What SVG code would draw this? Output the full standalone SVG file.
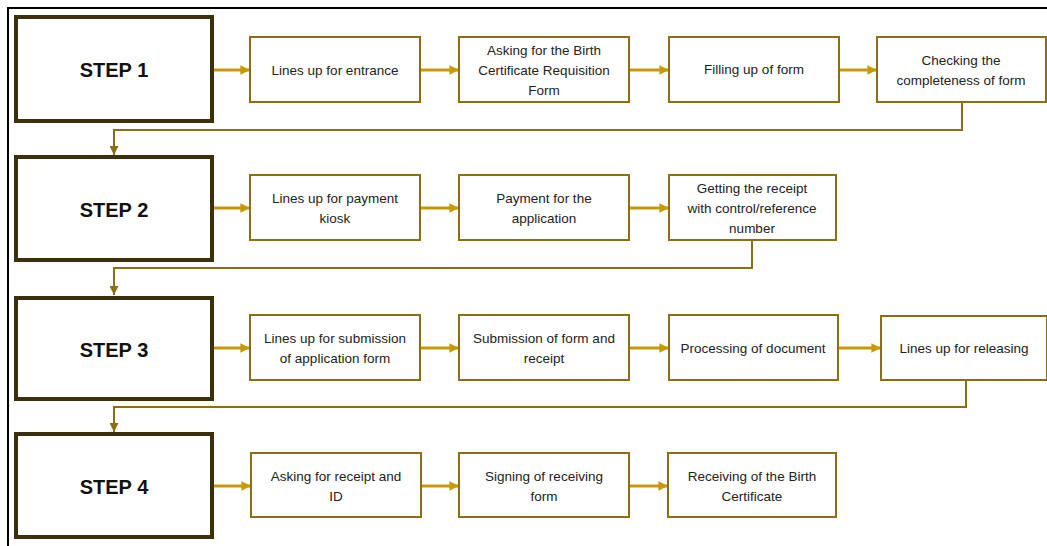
<svg xmlns="http://www.w3.org/2000/svg" width="1047" height="546" viewBox="0 0 1047 546">
<defs>
<style>
.step{fill:#fff;stroke:#3b2f0c;stroke-width:4}
.box{fill:#fff;stroke:#8d6e12;stroke-width:2}
.st{font-family:"Liberation Sans",Arial,sans-serif;font-weight:bold;font-size:20px;fill:#111;text-anchor:middle}
.t{font-family:"Liberation Sans",Arial,sans-serif;font-size:13.5px;fill:#222;text-anchor:middle}
.arr{fill:none;stroke:#c69a06;stroke-width:3;marker-end:url(#ah)}
.loop{fill:none;stroke:#8d6e12;stroke-width:2;marker-end:url(#lh)}
</style>
<marker id="ah" viewBox="0 0 10 10" refX="10" refY="5" markerWidth="3.6" markerHeight="3.2" markerUnits="strokeWidth" orient="auto"><path d="M0,0L10,5L0,10z" fill="#c69a06"/></marker>
<marker id="lh" viewBox="0 0 10 10" refX="10" refY="5" markerWidth="4.5" markerHeight="4.5" markerUnits="strokeWidth" orient="auto"><path d="M0,0L10,5L0,10z" fill="#8d6e12"/></marker>
</defs>
<rect width="1047" height="546" fill="#fff"/>
<path d="M8,546V8H1047" fill="none" stroke="#000" stroke-width="2"/>
<g id="connectors">
<path class="arr" d="M214,70H250"/>
<path class="arr" d="M420,70H459"/>
<path class="arr" d="M629,70H669"/>
<path class="arr" d="M839,70H877"/>
<path class="loop" d="M962,102V130H114V155"/>
<path class="arr" d="M214,208H250"/>
<path class="arr" d="M420,208H459"/>
<path class="arr" d="M629,208H669"/>
<path class="loop" d="M752,240V268H114V295"/>
<path class="arr" d="M214,348H250"/>
<path class="arr" d="M420,348H459"/>
<path class="arr" d="M629,348H669"/>
<path class="arr" d="M838,348H881"/>
<path class="loop" d="M966,380V407H114V432"/>
<path class="arr" d="M214,486H251"/>
<path class="arr" d="M421,486H459"/>
<path class="arr" d="M629,486H668"/>
</g>
<g id="step1"><rect class="step" x="16" y="17" width="196" height="104"/><text class="st" x="114" y="77">STEP 1</text></g>
<g id="n1a"><rect class="box" x="250" y="37" width="170" height="65"/><text class="t" x="335" y="75">Lines up for entrance</text></g>
<g id="n1b"><rect class="box" x="459" y="37" width="170" height="65"/><text class="t" x="544" y="55">Asking for the Birth</text><text class="t" x="544" y="75">Certificate Requisition</text><text class="t" x="544" y="95">Form</text></g>
<g id="n1c"><rect class="box" x="669" y="37" width="170" height="65"/><text class="t" x="754" y="74">Filling up of form</text></g>
<g id="n1d"><rect class="box" x="877" y="37" width="169" height="65"/><text class="t" x="961" y="65">Checking the</text><text class="t" x="961" y="85">completeness of form</text></g>
<g id="step2"><rect class="step" x="16" y="157" width="196" height="103"/><text class="st" x="114" y="217">STEP 2</text></g>
<g id="n2a"><rect class="box" x="250" y="175" width="170" height="65"/><text class="t" x="335" y="203">Lines up for payment</text><text class="t" x="335" y="223">kiosk</text></g>
<g id="n2b"><rect class="box" x="459" y="175" width="170" height="65"/><text class="t" x="544" y="203">Payment for the</text><text class="t" x="544" y="223">application</text></g>
<g id="n2c"><rect class="box" x="669" y="175" width="167" height="65"/><text class="t" x="752" y="193">Getting the receipt</text><text class="t" x="752" y="213">with control/reference</text><text class="t" x="752" y="233">number</text></g>
<g id="step3"><rect class="step" x="16" y="298" width="196" height="101"/><text class="st" x="114" y="357">STEP 3</text></g>
<g id="n3a"><rect class="box" x="250" y="315" width="170" height="65"/><text class="t" x="335" y="343">Lines up for submission</text><text class="t" x="335" y="363">of application form</text></g>
<g id="n3b"><rect class="box" x="459" y="315" width="170" height="65"/><text class="t" x="544" y="343">Submission of form and</text><text class="t" x="544" y="363">receipt</text></g>
<g id="n3c"><rect class="box" x="669" y="315" width="169" height="65"/><text class="t" x="753" y="353">Processing of document</text></g>
<g id="n3d"><rect class="box" x="881" y="316" width="166" height="64"/><text class="t" x="964" y="353">Lines up for releasing</text></g>
<g id="step4"><rect class="step" x="16" y="434" width="196" height="103"/><text class="st" x="114" y="494">STEP 4</text></g>
<g id="n4a"><rect class="box" x="251" y="453" width="170" height="64"/><text class="t" x="336" y="481">Asking for receipt and</text><text class="t" x="336" y="501">ID</text></g>
<g id="n4b"><rect class="box" x="459" y="453" width="170" height="64"/><text class="t" x="544" y="481">Signing of receiving</text><text class="t" x="544" y="501">form</text></g>
<g id="n4c"><rect class="box" x="668" y="453" width="168" height="64"/><text class="t" x="752" y="481">Receiving of the Birth</text><text class="t" x="752" y="501">Certificate</text></g>
</svg>
